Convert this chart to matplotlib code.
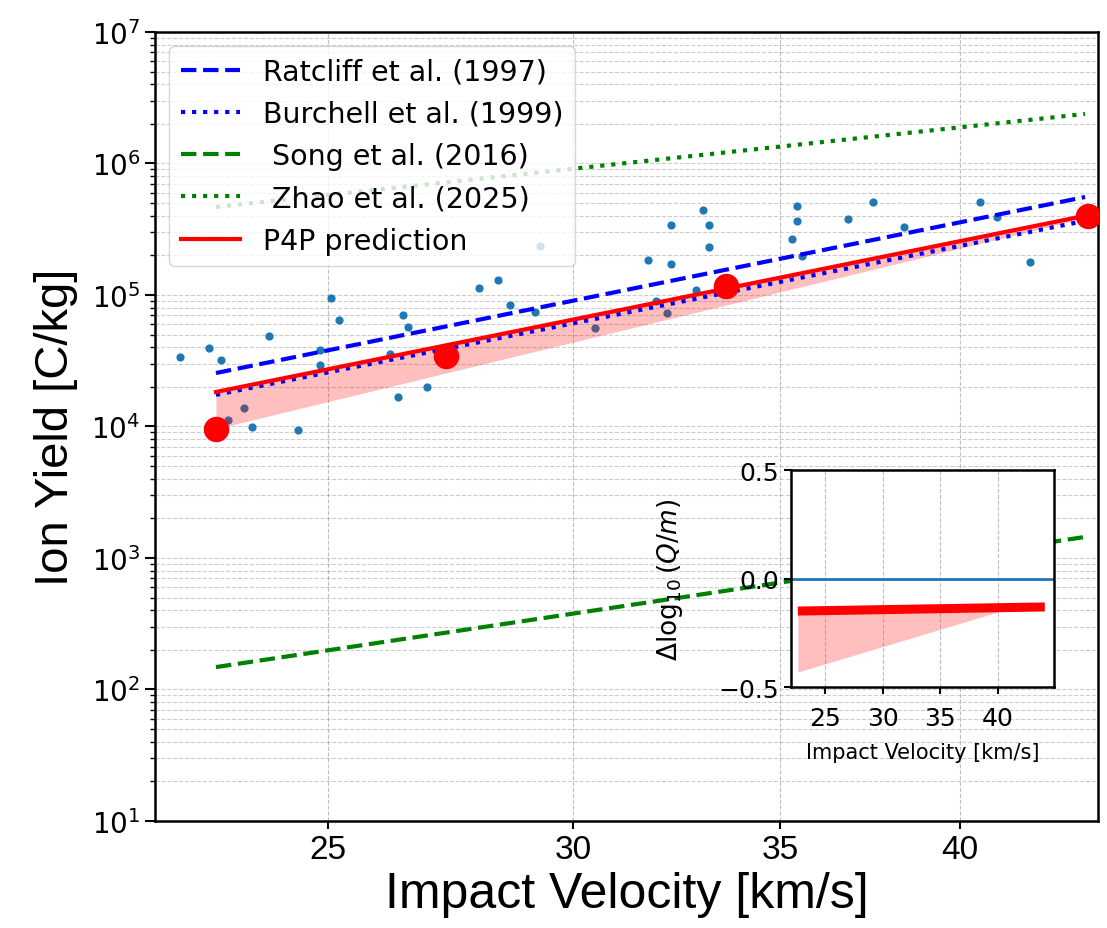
import matplotlib
matplotlib.use("Agg")
import matplotlib.pyplot as plt
from matplotlib.ticker import LogLocator, NullFormatter, NullLocator

# measured scatter (impact velocity [km/s], ion yield [C/kg])
scatter_v = [22.39, 22.88, 23.09, 23.21, 23.49, 23.63, 23.92, 24.45, 24.85, 24.85,
             25.06, 25.21, 26.18, 26.33, 26.43, 26.53, 26.91, 27.97, 28.37, 28.62,
             29.16, 29.26, 30.50, 31.71, 31.90, 32.17, 32.27, 32.27, 32.87, 33.03,
             33.19, 33.19, 35.29, 35.44, 35.44, 35.57, 36.81, 37.50, 38.37, 40.60,
             41.12, 42.14]
scatter_q = [3.38e4, 3.95e4, 3.2e4, 1.12e4, 1.38e4, 9.9e3, 4.88e4, 9.4e3, 3.82e4, 2.94e4,
             9.5e4, 6.45e4, 3.56e4, 1.68e4, 7.05e4, 5.71e4, 2.0e4, 1.13e5, 1.3e5, 8.4e4,
             7.43e4, 2.36e5, 5.61e4, 1.85e5, 9.0e4, 7.3e4, 3.4e5, 1.72e5, 1.09e5, 4.43e5,
             3.4e5, 2.32e5, 2.67e5, 4.75e5, 3.65e5, 1.98e5, 3.78e5, 5.1e5, 3.29e5, 5.1e5,
             3.92e5, 1.78e5]

# model lines (end points, straight in log-log)
line_v = [23.0, 43.9]
ratcliff_q = [2.55e4, 5.56e5]
burchell_q = [1.74e4, 3.66e5]
song_q = [148, 1445]
zhao_q = [4.67e5, 2.38e6]
p4p_q = [1.83e4, 4.0e5]
p4p_low = [9.6e3, 3.85e5]

# P4P predicted points
p4p_pts_v = [23.0, 27.3, 33.6, 44.0]
p4p_pts_q = [9.6e3, 3.44e4, 1.17e5, 4.0e5]

# inset residuals
res_v = [22.6, 41.3, 44.1]
res_line = [-0.150, -0.134, -0.131]
res_low = [-0.431, -0.134, -0.131]

xticks = [25, 30, 35, 40]
yticks = [1e1, 1e2, 1e3, 1e4, 1e5, 1e6, 1e7]
labels = ["Ratcliff et al. (1997)", "Burchell et al. (1999)", " Song et al. (2016)",
          " Zhao et al. (2025)", "P4P prediction"]

LABEL_FONT = ["Liberation Sans", "DejaVu Sans"]

fig = plt.figure(figsize=(11.07, 9.29), dpi=100)
ax = fig.add_axes([0.140, 0.1152, 0.852, 0.8493])

ax.scatter(scatter_v, scatter_q, s=24, color="#1f77b4", zorder=2)
ax.plot(line_v, ratcliff_q, "--", color="blue", lw=3, label=labels[0], zorder=3)
ax.plot(line_v, burchell_q, ":", color="blue", lw=3, label=labels[1], zorder=3)
ax.plot(line_v, song_q, "--", color="green", lw=3, label=labels[2], zorder=3)
ax.plot(line_v, zhao_q, ":", color="green", lw=3, label=labels[3], zorder=3)
ax.plot(line_v, p4p_q, "-", color="red", lw=3, label=labels[4], zorder=3)
ax.fill_between(line_v, p4p_low, p4p_q, color="red", alpha=0.25, lw=0, zorder=2.5)
ax.scatter(p4p_pts_v, p4p_pts_q, s=300, color="red", zorder=4)

ax.set_xscale("log")
ax.set_yscale("log")
ax.set_xlim(21.98, 44.33)
ax.set_ylim(10, 1e7)
ax.set_xticks(xticks)
ax.set_xticklabels([str(t) for t in xticks], fontsize=24, family=LABEL_FONT)
ax.xaxis.set_minor_locator(NullLocator())
ax.xaxis.set_minor_formatter(NullFormatter())
ax.set_yticks(yticks)
ax.yaxis.set_minor_locator(LogLocator(base=10, subs=range(2, 10), numticks=50))
ax.yaxis.set_minor_formatter(NullFormatter())
ax.tick_params(axis="y", which="major", labelsize=20, length=7, width=1.5)
ax.tick_params(axis="y", which="minor", length=3.5, width=1)
ax.tick_params(axis="x", which="major", length=6, width=1.5)

ax.grid(True, axis="x", which="major", ls="--", lw=0.8, color="gray", alpha=0.5)
ax.grid(True, axis="y", which="both", ls="--", lw=0.8, color="gray", alpha=0.4)
for sp in ax.spines.values():
    sp.set_linewidth(1.8)

ax.set_xlabel("Impact Velocity [km/s]", fontsize=36, family=LABEL_FONT, labelpad=4)
ax.set_ylabel("Ion Yield [C/kg]", fontsize=34, family=LABEL_FONT, labelpad=10)

ax.legend(loc="upper left", fontsize=20.5, handlelength=2.1)

# inset with log residuals
ins = fig.add_axes([0.7145, 0.2594, 0.2376, 0.2336])
ins.axhline(0, color="#1f77b4", lw=2)
ins.plot(res_v[:1] + res_v[2:], res_line[:1] + res_line[2:], color="red", lw=6.5,
         solid_capstyle="butt")
ins.fill_between(res_v, res_low, res_line, color="red", alpha=0.25, lw=0)
ins.set_xlim(22, 44.9)
ins.set_ylim(-0.5, 0.5)
ins.set_xticks(xticks)
ins.set_yticks([-0.5, 0.0, 0.5])
ins.tick_params(labelsize=18, length=5, width=1.5)
ins.tick_params(axis="x", pad=9)
ins.grid(True, axis="x", ls="--", lw=0.8, color="gray", alpha=0.5)
for sp in ins.spines.values():
    sp.set_linewidth(1.8)
ins.set_xlabel("Impact Velocity [km/s]", fontsize=15, labelpad=8)
ins.set_ylabel(r"$\Delta\log_{10}(Q/m)$", fontsize=19, labelpad=24)

fig.savefig("out.png", dpi=100)
